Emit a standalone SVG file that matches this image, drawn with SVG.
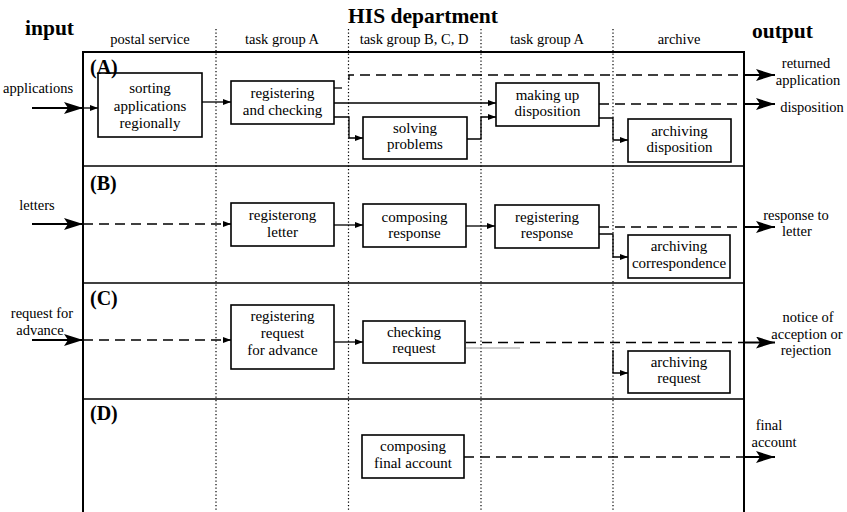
<svg xmlns="http://www.w3.org/2000/svg" width="847" height="512" viewBox="0 0 847 512">
  <style>
    text { font-family: "Liberation Serif", "Times New Roman", serif; fill: #000; }
    .t { font-size: 15px; text-anchor: middle; }
    .hd { font-size: 14.5px; text-anchor: middle; }
    .lbl { font-size: 14.5px; }
    .out { font-size: 14.5px; text-anchor: middle; }
    .big { font-size: 21.5px; font-weight: bold; }
    .lane { font-size: 20px; font-weight: bold; }
    .box rect { fill: #fff; stroke: #000; stroke-width: 1.6; }
    .frame { fill: none; stroke: #000; stroke-width: 2; }
    .sep { stroke: #000; stroke-width: 1.6; }
    .dot { stroke: #000; stroke-width: 1.2; stroke-dasharray: 1.3 2.2; }
    .c { fill: none; stroke: #000; stroke-width: 1.3; }
    .d { stroke-dasharray: 10 6; }
    .s { marker-end: url(#sm); }
    .b { marker-end: url(#bg); stroke-width: 2; }
  </style>
  <defs>
    <marker id="sm" markerUnits="userSpaceOnUse" viewBox="0 0 8 6" refX="8" refY="3" markerWidth="8" markerHeight="6" orient="auto">
      <path d="M0,0 L8,3 L0,6 z" fill="#000"/>
    </marker>
    <marker id="bg" markerUnits="userSpaceOnUse" viewBox="0 0 19 12" refX="19" refY="6" markerWidth="19" markerHeight="12" orient="auto">
      <path d="M0,0 L19,6 L0,12 L4,6 z" fill="#000"/>
    </marker>
  </defs>

  <!-- titles and column headers -->
  <text class="big" x="423" y="23" text-anchor="middle" font-size="23">HIS department</text>
  <text class="big" x="25" y="35">input</text>
  <text class="big" x="752" y="38">output</text>
  <text class="hd" x="150" y="44">postal service</text>
  <text class="hd" x="282" y="44">task group A</text>
  <text class="hd" x="414" y="44">task group B, C, D</text>
  <text class="hd" x="547" y="44">task group A</text>
  <text class="hd" x="679" y="44">archive</text>

  <!-- frame, lanes, column dividers -->
  <rect class="frame" x="83" y="52" width="661" height="462"/>
  <line class="sep" x1="83" y1="166" x2="744" y2="166"/>
  <line class="sep" x1="83" y1="283" x2="744" y2="283"/>
  <line class="sep" x1="83" y1="399" x2="744" y2="399"/>
  <line class="dot" x1="216" y1="29" x2="216" y2="512"/>
  <line class="dot" x1="348.5" y1="29" x2="348.5" y2="512"/>
  <line class="dot" x1="481" y1="29" x2="481" y2="512"/>
  <line class="dot" x1="613" y1="29" x2="613" y2="512"/>

  <!-- input / output labels -->
  <text class="lbl" x="3" y="93">applications</text>
  <text class="lbl" x="37" y="210" text-anchor="middle">letters</text>
  <text class="lbl" x="42" y="318" text-anchor="middle">request for</text>
  <text class="lbl" x="40" y="335" text-anchor="middle">advance</text>
  <text class="out" x="806" y="68">returned</text>
  <text class="out" x="808" y="85">application</text>
  <text class="out" x="812" y="112">disposition</text>
  <text class="out" x="796" y="220">response to</text>
  <text class="out" x="797" y="236">letter</text>
  <text class="out" x="808" y="322">notice of</text>
  <text class="out" x="807" y="339">acception or</text>
  <text class="out" x="806" y="355">rejection</text>
  <text class="out" x="769" y="430">final</text>
  <text class="out" x="774" y="447">account</text>

  <!-- connectors -->
  <g id="connectors">
    <!-- lane A -->
    <path class="c b" d="M32,108 H83"/>
    <path class="c s" d="M83,108 H98"/>
    <path class="c s" d="M202,102 H231"/>
    <path class="c" d="M334,88 H342"/>
    <path class="c d" d="M349,80 V75 H744"/>
    <path class="c b" d="M744,75 H775"/>
    <path class="c s" d="M334,103 H496"/>
    <path class="c s" d="M334,117 H349 V138 H363"/>
    <path class="c s" d="M467,139 H481 V117 H496"/>
    <path class="c d" d="M599,104 H744"/>
    <path class="c b" d="M744,104 H775"/>
    <path class="c s" d="M599,118 H613 V140 H628"/>
    <!-- lane B -->
    <path class="c b" d="M32,224 H83"/>
    <path class="c d s" d="M83,224 H231"/>
    <path class="c s" d="M334,225 H363"/>
    <path class="c s" d="M466,226 H495"/>
    <path class="c d" d="M599,227 H744"/>
    <path class="c b" d="M744,227 H775"/>
    <path class="c s" d="M599,234 H613 V257 H628"/>
    <!-- lane C -->
    <path class="c b" d="M32,340 H83"/>
    <path class="c d s" d="M83,340 H231"/>
    <path class="c s" d="M334,342 H363"/>
    <path class="c d" d="M466,342.5 H744"/>
    <path class="c b" d="M744,342.5 H775"/>
    <path d="M466,348 H520" stroke="#999" stroke-width="1" fill="none"/>
    <path class="c s" d="M613,350 V373 H628"/>
    <!-- lane D -->
    <path class="c d" d="M464,457 H744"/>
    <path class="c b" d="M744,457 H775"/>
  </g>

  <!-- lane A nodes -->
  <g id="sorting" class="box">
    <rect x="98" y="73" width="104" height="64"/>
    <text class="t" x="150" y="93">sorting</text>
    <text class="t" x="150" y="111">applications</text>
    <text class="t" x="150" y="128">regionally</text>
  </g>
  <g id="registering-checking" class="box">
    <rect x="231" y="81" width="103" height="43"/>
    <text class="t" x="282.5" y="98">registering</text>
    <text class="t" x="282.5" y="115">and checking</text>
  </g>
  <g id="solving-problems" class="box">
    <rect x="363" y="117" width="104" height="42"/>
    <text class="t" x="415" y="133">solving</text>
    <text class="t" x="415" y="149">problems</text>
  </g>
  <g id="making-up-disposition" class="box">
    <rect x="496" y="83" width="103" height="43"/>
    <text class="t" x="547.5" y="100">making up</text>
    <text class="t" x="547.5" y="116">disposition</text>
  </g>
  <g id="archiving-disposition" class="box">
    <rect x="628" y="119" width="103" height="43"/>
    <text class="t" x="679.5" y="136">archiving</text>
    <text class="t" x="679.5" y="152">disposition</text>
  </g>

  <!-- lane B nodes -->
  <g id="registering-letter" class="box">
    <rect x="231" y="203" width="103" height="43"/>
    <text class="t" x="282.5" y="220">registerong</text>
    <text class="t" x="282.5" y="237">letter</text>
  </g>
  <g id="composing-response" class="box">
    <rect x="363" y="204" width="103" height="43"/>
    <text class="t" x="414.5" y="222">composing</text>
    <text class="t" x="414.5" y="238">response</text>
  </g>
  <g id="registering-response" class="box">
    <rect x="495" y="205" width="104" height="43"/>
    <text class="t" x="547" y="222">registering</text>
    <text class="t" x="547" y="238">response</text>
  </g>
  <g id="archiving-correspondence" class="box">
    <rect x="628" y="235" width="102" height="43"/>
    <text class="t" x="679" y="251">archiving</text>
    <text class="t" x="679" y="268">correspondence</text>
  </g>

  <!-- lane C nodes -->
  <g id="registering-request" class="box">
    <rect x="231" y="305" width="103" height="64"/>
    <text class="t" x="282.5" y="321">registering</text>
    <text class="t" x="282.5" y="338">request</text>
    <text class="t" x="282.5" y="355">for advance</text>
  </g>
  <g id="checking-request" class="box">
    <rect x="363" y="321" width="102" height="42"/>
    <text class="t" x="414" y="337">checking</text>
    <text class="t" x="414" y="353">request</text>
  </g>
  <g id="archiving-request" class="box">
    <rect x="628" y="351" width="102" height="42"/>
    <text class="t" x="679" y="367">archiving</text>
    <text class="t" x="679" y="383">request</text>
  </g>

  <!-- lane D nodes -->
  <g id="composing-final-account" class="box">
    <rect x="362" y="435" width="102" height="43"/>
    <text class="t" x="413" y="451">composing</text>
    <text class="t" x="413" y="468">final account</text>
  </g>

  <!-- lane letters -->
  <text class="lane" x="90" y="74">(A)</text>
  <text class="lane" x="90" y="190">(B)</text>
  <text class="lane" x="90" y="305">(C)</text>
  <text class="lane" x="90" y="420">(D)</text>
</svg>
